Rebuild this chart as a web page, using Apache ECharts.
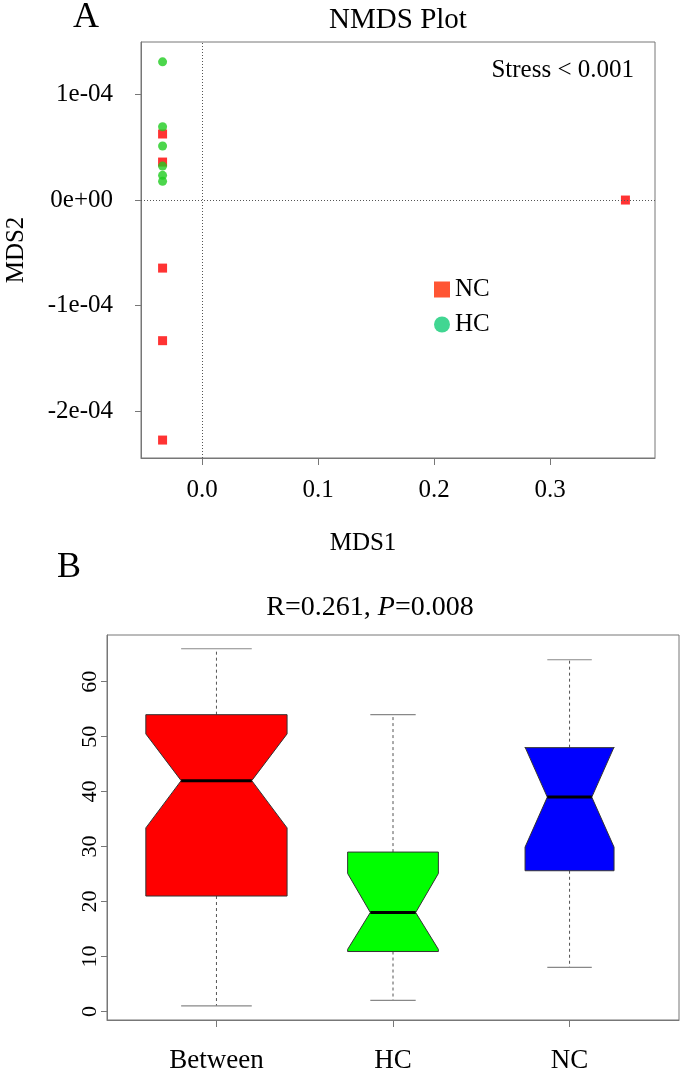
<!DOCTYPE html>
<html>
<head>
<meta charset="utf-8">
<script src="https://cdn.jsdelivr.net/npm/echarts@6/dist/echarts.min.js"></script>
<style>
html,body{margin:0;padding:0;background:#fff;}
#chart{width:681px;height:1074px;}
</style>
</head>
<body>
<div id="chart"></div>
<script>
// ---------- Panel A: NMDS ----------
var ncX = [-0.034, -0.034, -0.034, -0.034, -0.034, 0.365];
var ncY = [0.626e-4, 0.36e-4, -0.645e-4, -1.333e-4, -2.275e-4, 0];
var hcX = [-0.034, -0.034, -0.034, -0.034, -0.034, -0.034];
var hcY = [1.31e-4, 0.695e-4, 0.512e-4, 0.322e-4, 0.234e-4, 0.177e-4];
var mdsXTicks = [0, 0.1, 0.2, 0.3];
var mdsXTickLabels = ['0.0', '0.1', '0.2', '0.3'];
var mdsYTicks = [-2e-4, -1e-4, 0, 1e-4];
var mdsYTickLabels = ['-2e-04', '-1e-04', '0e+00', '1e-04'];

// ---------- Panel B: notched boxplots ----------
var boxCats = ['Between', 'HC', 'NC'];
var whiskerLow = [1, 2, 8];
var q1 = [21, 10.9, 25.6];
var notchLow = [33.4, 11.3, 29.9];
var median = [42, 18, 39];
var notchHigh = [50.5, 25.1, 48.1];
var q3 = [54, 29, 48];
var whiskerHigh = [66, 54, 64];
var boxYTicks = [0, 10, 20, 30, 40, 50, 60];

// styles (not data)
var boxColors = ['#ff0000', '#00ff00', '#0000ff'];
var boxHalfWidth = [0.40, 0.257, 0.252];
var serif = 'Liberation Serif';

function pair(xs, ys) { return xs.map(function (x, i) { return [x, ys[i]]; }); }
function lookup(vals, labels, v) {
  for (var i = 0; i < vals.length; i++) if (Math.abs(vals[i] - v) < Math.abs(vals[1] - vals[0]) * 0.01 + 1e-12) return labels[i];
  return '';
}

var boxRows = boxCats.map(function (c, i) {
  return [i + 1, whiskerLow[i], q1[i], notchLow[i], median[i], notchHigh[i], q3[i], whiskerHigh[i]];
});

var chart = echarts.init(document.getElementById('chart'), null, {renderer: 'canvas'});
var axisGrey = '#777';

var option = {
  animation: false,
  backgroundColor: '#fff',
  textStyle: {fontFamily: serif},
  grid: [
    {left: 141, top: 42, width: 514, height: 416, show: true, borderColor: axisGrey, borderWidth: 1, backgroundColor: 'transparent'},
    {left: 107, top: 635, width: 572, height: 390, show: true, borderColor: axisGrey, borderWidth: 1, backgroundColor: 'transparent'}
  ],
  xAxis: [
    {
      type: 'value', gridIndex: 0, min: -0.0526, max: 0.3905,
      axisLine: {show: true, onZero: false, lineStyle: {color: axisGrey}},
      axisTick: {show: true, customValues: mdsXTicks, length: 7, inside: false, lineStyle: {color: axisGrey}},
      axisLabel: {show: true, customValues: mdsXTicks, margin: 20, color: '#000', fontSize: 25, fontFamily: serif,
        formatter: function (v) { return lookup(mdsXTicks, mdsXTickLabels, v); }},
      splitLine: {show: false}
    },
    {
      type: 'value', gridIndex: 1, min: 0.38, max: 3.62,
      axisLine: {show: true, onZero: false, lineStyle: {color: axisGrey}},
      axisTick: {show: true, customValues: [1, 2, 3], length: 7, inside: false, lineStyle: {color: axisGrey}},
      axisLabel: {show: true, customValues: [1, 2, 3], margin: 27, color: '#000', fontSize: 27, fontFamily: serif,
        formatter: function (v) { return boxCats[Math.round(v) - 1] || ''; }},
      splitLine: {show: false}
    }
  ],
  yAxis: [
    {
      type: 'value', gridIndex: 0, min: -2.445e-4, max: 1.498e-4,
      axisLine: {show: true, onZero: false, lineStyle: {color: axisGrey}},
      axisTick: {show: true, customValues: mdsYTicks, length: 6, inside: false, lineStyle: {color: axisGrey}},
      axisLabel: {show: true, customValues: mdsYTicks, margin: 28, color: '#000', fontSize: 25, fontFamily: serif,
        formatter: function (v) { return lookup(mdsYTicks, mdsYTickLabels, v); }},
      splitLine: {show: false}
    },
    {
      type: 'value', gridIndex: 1, min: -1.56, max: 68.5,
      axisLine: {show: true, onZero: false, lineStyle: {color: axisGrey}},
      axisTick: {show: true, customValues: boxYTicks, length: 6, inside: false, lineStyle: {color: axisGrey}},
      axisLabel: {show: true, customValues: boxYTicks, margin: 6, rotate: 90, color: '#000', fontSize: 22, fontFamily: serif,
        formatter: function (v) { return String(Math.round(v)); }},
      splitLine: {show: false}
    }
  ],
  legend: {
    orient: 'vertical', left: 429, top: 272, itemGap: 10, itemWidth: 16, itemHeight: 16,
    textStyle: {fontSize: 25, fontFamily: serif, color: '#000'},
    data: [
      {name: 'NC', icon: 'rect', itemStyle: {color: '#ff2a00'}},
      {name: 'HC', icon: 'circle', itemStyle: {color: '#11cc77'}}
    ]
  },
  series: [
    {
      name: 'NC', type: 'scatter', xAxisIndex: 0, yAxisIndex: 0,
      symbol: 'rect', symbolSize: 9, itemStyle: {color: '#ff0000'},
      data: pair(ncX, ncY),
      markLine: {
        silent: true, symbol: 'none', label: {show: false},
        lineStyle: {color: '#555', width: 1, type: [1, 2]},
        data: [{xAxis: 0}, {yAxis: 0}]
      },
      z: 2
    },
    {
      name: 'HC', type: 'scatter', xAxisIndex: 0, yAxisIndex: 0,
      symbol: 'circle', symbolSize: 9, itemStyle: {color: '#1fcc1f'},
      data: pair(hcX, hcY),
      z: 3
    },
    {
      name: 'box', type: 'custom', xAxisIndex: 1, yAxisIndex: 1,
      encode: {x: 0, y: [1, 2, 3, 4, 5, 6, 7]},
      data: boxRows,
      renderItem: function (params, api) {
        var i = params.dataIndex;
        var c = api.value(0);
        var w = boxHalfWidth[i];
        var wl = api.value(1), lq = api.value(2), nl = api.value(3), md = api.value(4),
            nh = api.value(5), uq = api.value(6), wh = api.value(7);
        function P(x, y) { return api.coord([x, y]); }
        var poly = [
          P(c - w, lq), P(c - w, nl), P(c - w / 2, md), P(c - w, nh), P(c - w, uq),
          P(c + w, uq), P(c + w, nh), P(c + w / 2, md), P(c + w, nl), P(c + w, lq)
        ];
        var dash = {stroke: '#555', lineWidth: 1, lineDash: [3, 3]};
        var cap = {stroke: '#888', lineWidth: 1.2};
        var a, b;
        var children = [];
        a = P(c, uq); b = P(c, wh);
        children.push({type: 'line', shape: {x1: a[0], y1: a[1], x2: b[0], y2: b[1]}, style: dash});
        a = P(c, lq); b = P(c, wl);
        children.push({type: 'line', shape: {x1: a[0], y1: a[1], x2: b[0], y2: b[1]}, style: dash});
        a = P(c - w / 2, wh); b = P(c + w / 2, wh);
        children.push({type: 'line', shape: {x1: a[0], y1: a[1], x2: b[0], y2: b[1]}, style: cap});
        a = P(c - w / 2, wl); b = P(c + w / 2, wl);
        children.push({type: 'line', shape: {x1: a[0], y1: a[1], x2: b[0], y2: b[1]}, style: cap});
        children.push({type: 'polygon', shape: {points: poly}, style: {fill: boxColors[i], stroke: '#333', lineWidth: 1}});
        a = P(c - w / 2, md); b = P(c + w / 2, md);
        children.push({type: 'line', shape: {x1: a[0], y1: a[1], x2: b[0], y2: b[1]}, style: {stroke: '#000', lineWidth: 3}});
        return {type: 'group', children: children};
      }
    }
  ],
  graphic: [
    {type: 'text', x: 86, y: 18, style: {text: 'A', font: '36px "Liberation Serif"', fill: '#000', textAlign: 'center', textVerticalAlign: 'middle'}},
    {type: 'text', x: 398, y: 20, style: {text: 'NMDS Plot', font: '29px "Liberation Serif"', fill: '#000', textAlign: 'center', textVerticalAlign: 'middle'}},
    {type: 'text', x: 634, y: 70, style: {text: 'Stress < 0.001', font: '25px "Liberation Serif"', fill: '#000', textAlign: 'right', textVerticalAlign: 'middle'}},
    {type: 'text', x: 363, y: 543, style: {text: 'MDS1', font: '25px "Liberation Serif"', fill: '#000', textAlign: 'center', textVerticalAlign: 'middle'}},
    {type: 'text', x: 16, y: 250, rotation: Math.PI / 2, style: {text: 'MDS2', font: '25px "Liberation Serif"', fill: '#000', textAlign: 'center', textVerticalAlign: 'middle'}},
    {type: 'text', x: 69, y: 568, style: {text: 'B', font: '36px "Liberation Serif"', fill: '#000', textAlign: 'center', textVerticalAlign: 'middle'}},
    {type: 'text', x: 370, y: 608, style: {
      text: '{n|R=0.261, }{i|P}{n|=0.008}', textAlign: 'center', textVerticalAlign: 'middle',
      rich: {n: {fontSize: 28, fontFamily: serif, fill: '#000', color: '#000'}, i: {fontSize: 28, fontFamily: serif, fontStyle: 'italic', fill: '#000', color: '#000'}}
    }}
  ]
};
chart.setOption(option);
</script>
</body>
</html>
